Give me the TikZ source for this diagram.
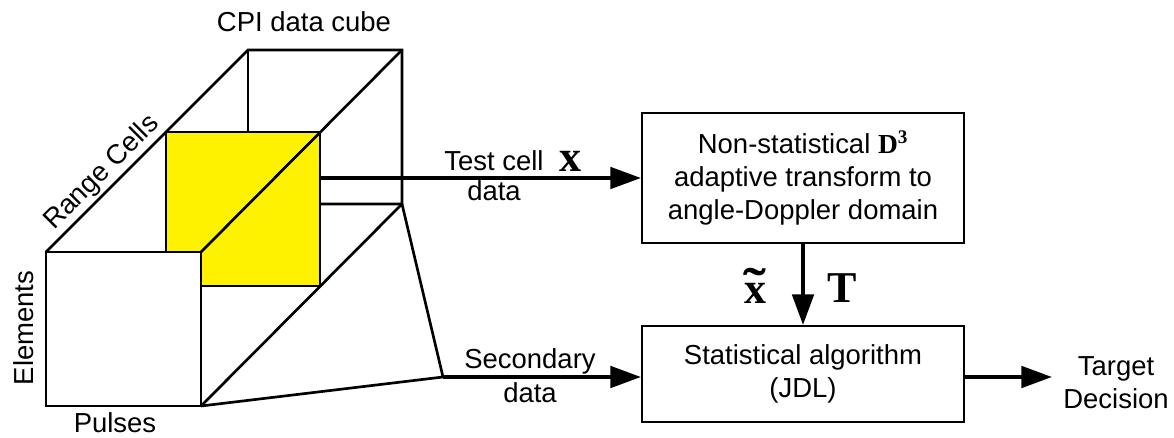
\documentclass[tikz,border=0pt]{standalone}
\usepackage{fontspec}
\setmainfont{Liberation Sans}
\newfontfamily\tnr{Liberation Serif}
\usetikzlibrary{arrows.meta}

% bold x with a wide tilde on top
\newcommand{\tildex}{{\ooalign{x\cr\hidewidth\scalebox{1.55}[1.15]{\symbol{"02DC}}\hidewidth\cr}}}

\tikzset{
  txt/.style={font=\fontsize{20.6}{24.5}\selectfont, inner sep=0pt},
  sym/.style={font=\fontsize{33}{36}\selectfont\tnr\bfseries, inner sep=0pt},
  cube/.style={line width=2pt, line join=miter},
  block/.style={draw, line width=1.5pt, minimum width=241.5pt, inner sep=0pt,
    align=center, font=\fontsize{20.6}{24.5}\selectfont},
  flow/.style={line width=3pt, -{Triangle[length=23pt, width=16pt]}},
}

\begin{document}
\begin{tikzpicture}[x=0.75pt, y=-0.75pt]
  \useasboundingbox (0,0) rectangle (1174,438);

  % highlighted slice of the data cube
  \fill[yellow] (166,132) -- (320,132) -- (320,286) -- (201,286)
    -- (201,252) -- (166,252) -- cycle;

  % data cube edges
  \draw[cube] (46,252) rectangle (201,406);
  \draw[cube] (46,252) -- (248,50) -- (402,50) -- (402,204) -- (320,204);
  \draw[cube] (248,50) -- (248,132);
  \draw[cube] (166,252) -- (166,132) -- (320,132) -- (320,286) -- (201,286);
  \draw[cube] (201,252) -- (402,50);
  \draw[cube] (201,406) -- (402,204);
  \draw[cube] (201,406) -- (443,377) -- (402,204);

  % cube labels
  \node[txt, anchor=base] (cpi) at (304,32) {CPI data cube};
  \node[txt, anchor=base] (pulses) at (115,432) {Pulses};
  \node[txt, anchor=base, rotate=90] (elem) at (33,328) {Elements};
  \node[txt, anchor=base, rotate=45] (range) at (107,178) {Range Cells};

  % outlets of the cube
  \coordinate (tc) at (320,178);
  \coordinate (sd) at (443,377);

  % processing blocks
  \node[block, minimum height=97.5pt] (b1) at (803,178)
    {Non-statistical {\tnr\bfseries D\textsuperscript{3}}\\
     adaptive transform to\\ angle-Doppler domain};
  \node[block, minimum height=72pt] (b2) at (803,374)
    {Statistical algorithm\\ (JDL)};
  \coordinate (td) at (1052,377);

  % connectors
  \draw[flow] (tc) -- (b1.west);
  \draw[flow] (sd) -- (sd -| b2.west);
  \draw[flow] (b1.south) -- (b2.north);
  \draw[flow] (sd -| b2.east) -- (td);

  % connector labels
  \node[txt, anchor=base] (tcl) at (494,171) {Test cell};
  \node[txt, anchor=base] (tcd) at (494,201) {data};
  \node[sym, anchor=base] (xv) at (570,172) {x};
  \node[txt, anchor=base] (sdl) at (530,368) {Secondary};
  \node[txt, anchor=base] (sdd) at (530,402) {data};
  \node[sym, anchor=base] (xt) at (755,303) {\tildex};
  \node[sym, anchor=base] (tm) at (842,302) {T};
  \node[txt, anchor=base] (tg1) at (1116,375) {Target};
  \node[txt, anchor=base] (tg2) at (1116,408) {Decision};
\end{tikzpicture}
\end{document}
